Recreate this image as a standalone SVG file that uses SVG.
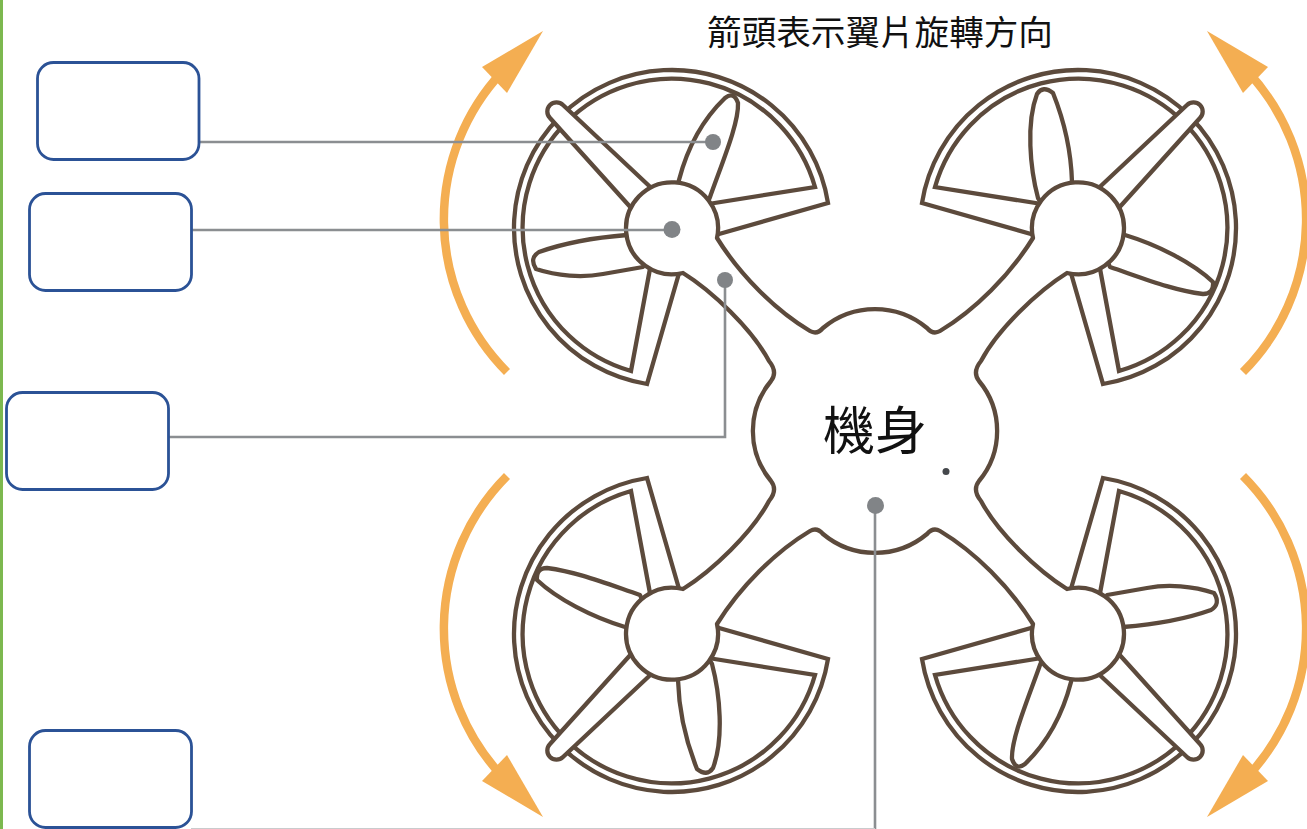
<svg xmlns="http://www.w3.org/2000/svg" width="1307" height="829" viewBox="0 0 1307 829">
<style>
.ln{fill:none;stroke:#5c4a3c;stroke-width:4.3;stroke-miterlimit:10}
.wh{fill:#fff;stroke:#5c4a3c;stroke-width:4.3;stroke-linejoin:round}
.box{fill:#fff;stroke:#2b5296;stroke-width:2.8}
.con{fill:none;stroke:#8b8e91;stroke-width:2.6}
.dot{fill:#818487}
.shaft{fill:none;stroke:#f4ae52;stroke-width:8.5}
.head{fill:#f4ae52}
text{font-family:"Noto Sans CJK TC","Noto Sans CJK SC",sans-serif;fill:#111;text-anchor:middle}
</style>
<defs>
<g id="frame">
<path class="ln" d="M40,8 L156,-25 A158 158 0 1 0 -25,156 L12,28"/>
<path class="ln" d="M30,-23 L143,-41 A149 149 0 1 0 -41,143 L-20,30"/>
<path class="wh" d="M-30,-8 L-122,-110 A9 9 0 0 1 -109,-123 L-10,-30 Z"/>
</g>
<g id="bladesA">
<path class="wh" d="M5,-40 L7,-48 C14,-75 27,-105 53,-130 Q62,-137 66,-125 C67,-105 50,-65 38,-31 L33,-20 Z"/>
<path class="wh" d="M-35,5 L-45,7 C-70,9 -105,14 -133,24 Q-143,30 -136,41 C-115,48 -90,50 -69,46 L-29,39 L-25,30 Z"/>
</g>
<g id="bladesB">
<path class="wh" d="M-35,-22 L-40,-30 C-48,-60 -52,-105 -41,-134 Q-35,-143 -25,-135 C-15,-110 -7,-80 -6,-46 L-4,-38 Z"/>
<path class="wh" d="M38,5 L47,7 C80,17 115,35 135,54 Q136,66 125,66 C95,62 70,52 32,39 L28,30 Z"/>
</g>
<g id="arrow">
<path class="shaft" d="M507,372 A216 216 0 0 1 502,72"/>
<polygon class="head" points="543,31 482,67 507,93"/>
</g>
</defs>
<rect width="1307" height="829" fill="#fff"/>
<rect id="side-bar" x="0" y="0" width="3" height="829" fill="#7cb84f"/>

<g id="rotation-arrows">
<use href="#arrow"/>
<use href="#arrow" transform="translate(1750,0) scale(-1,1)"/>
<use href="#arrow" transform="translate(0,848) scale(1,-1)"/>
<use href="#arrow" transform="translate(1750,848) scale(-1,-1)"/>
</g>

<g id="rotor-top-left" transform="translate(672,228)"><use href="#frame"/><use href="#bladesA"/></g>
<g id="rotor-top-right" transform="translate(1078,228)"><use href="#frame" transform="scale(-1,1)"/><use href="#bladesB"/></g>
<g id="rotor-bottom-left" transform="translate(672,634)"><use href="#frame" transform="scale(1,-1)"/><use href="#bladesB" transform="rotate(180)"/></g>
<g id="rotor-bottom-right" transform="translate(1078,634)"><use href="#frame" transform="scale(-1,-1)"/><use href="#bladesA" transform="rotate(180)"/></g>

<g id="body">
<path class="wh" d="M823,328 A81 81 0 0 1 927,328 Q933,335 940,331 C975,310 1010,275 1033,238 A46 46 0 1 1 1067,273 C1038,291 998,329 981,361 Q972,372 979,381 A78 78 0 0 1 979,481 Q972,490 981,501 C998,533 1038,571 1067,589 A46 46 0 1 1 1033,624 C1010,587 975,552 940,531 Q933,527 927,534 A81 81 0 0 1 823,534 Q817,527 810,531 C775,552 740,587 717,624 A46 46 0 1 1 683,589 C712,571 752,533 769,501 Q778,490 771,481 A78 78 0 0 1 771,381 Q778,372 769,361 C752,329 712,291 683,273 A46 46 0 1 1 717,238 C740,275 775,310 810,331 Q817,335 823,328 Z"/>
<text x="875" y="450" font-size="52">機身</text>
<circle cx="946" cy="471.500" r="3.500" fill="#45484c"/>
</g>

<g id="connectors">
<path class="con" d="M199,142 H713"/>
<path class="con" d="M191,230 H672"/>
<path class="con" d="M168,437 H725 V280"/>
<path class="con" d="M875,505 V829"/>
<path d="M191,828.500 H875" fill="none" stroke="#c9cbcd" stroke-width="1"/>
<circle class="dot" cx="713" cy="142" r="8"/>
<circle class="dot" cx="672" cy="229.500" r="8.500"/>
<circle class="dot" cx="725" cy="280" r="8"/>
<circle class="dot" cx="875.500" cy="505.500" r="8.500"/>
</g>

<g id="box-1"><rect class="box" x="37.500" y="62.500" width="161.500" height="97" rx="16"/></g>
<g id="box-2"><rect class="box" x="29.500" y="193.500" width="162" height="97" rx="16"/></g>
<g id="box-3"><rect class="box" x="6.500" y="392.500" width="162" height="97" rx="16"/></g>
<g id="box-4"><rect class="box" x="29.500" y="730.500" width="162" height="97" rx="16"/></g>

<g id="title"><text x="880" y="45" font-size="34.600">箭頭表示翼片旋轉方向</text></g>
</svg>
